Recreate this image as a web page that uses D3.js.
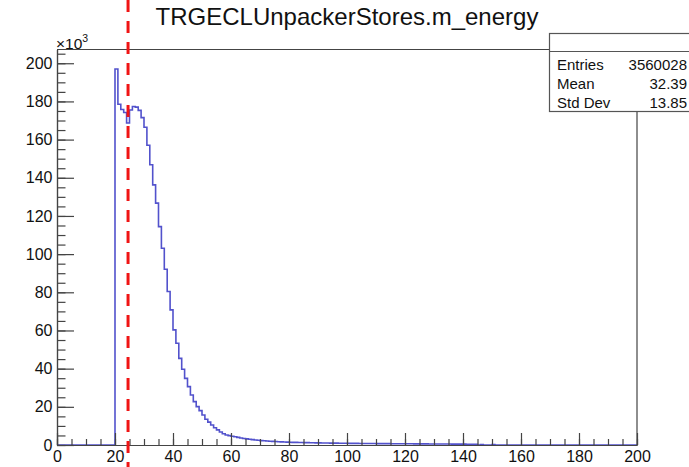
<!DOCTYPE html>
<html lang="en-US">
<head>
<meta charset="UTF-8">
<title>TRGECLUnpackerStores.m_energy</title>
<script src="https://d3js.org/d3.v7.min.js"></script>
<style>
  body { margin: 0; background: #fff; }
  svg { display: block; font-family: "Liberation Sans", Helvetica, Arial, sans-serif; }
  .axis path, .axis line { stroke: #444; stroke-width: 1.2px; }
  .axis text { font-size: 16px; fill: #111; }
  .hist { fill: none; stroke: #5252cc; stroke-width: 1.6px; }
  .cut { stroke: #f01414; stroke-width: 3px; stroke-dasharray: 12 9; }
  .stats text { font-size: 15px; fill: #111; }
</style>
</head>
<body>
<script>

// histogram: 200 bins of width 1 over [0, 200], contents in units of 10^3
var nBins = 200;
var xMin = 0, xMax = 200;
var firstBin = 20;   // bins below this are empty
var counts = [
  197.0, 178.5, 175.8, 174.2, 168.7, 175.5, 177.3, 177.0, 175.3, 171.5,   // 20-29
  166.5, 157.0, 146.8, 136.3, 126.7, 114.4, 103.1, 92.1, 80.4, 70.8,      // 30-39
  60.3, 53.3, 45.4, 39.7, 34.9, 30.6, 26.2, 22.7, 20.1, 18.0,             // 40-49
  15.7, 13.5, 12.0, 10.5, 9.0, 7.9, 6.8, 5.9, 5.2, 4.9,                   // 50-59
  4.6, 4.3, 4.0, 3.7, 3.4, 3.2, 3.0, 2.8, 2.6, 2.45,                      // 60-69
  2.3, 2.2, 2.1, 2.0, 1.9, 1.8, 1.72, 1.65, 1.58, 1.5,                    // 70-79
  1.45, 1.4, 1.36, 1.32, 1.28, 1.25, 1.22, 1.18, 1.15, 1.12,              // 80-89
  1.1, 1.07, 1.05, 1.02, 1.0, 0.98, 0.96, 0.94, 0.92, 0.9,                // 90-99
  0.88, 0.86, 0.85, 0.83, 0.82, 0.8, 0.79, 0.78, 0.77, 0.75,              // 100-109
  0.74, 0.73, 0.72, 0.71, 0.7, 0.69, 0.68, 0.67, 0.66, 0.65,              // 110-119
  0.64, 0.63, 0.62, 0.61, 0.6, 0.59, 0.58, 0.57, 0.56, 0.55,              // 120-129
  0.54, 0.53, 0.52, 0.51, 0.5, 0.49, 0.48, 0.47, 0.46, 0.45,              // 130-139
  0.44, 0.43, 0.42, 0.41, 0.4, 0.0, 0.3, 0.0, 0.0, 0.0,                   // 140-149
  0.3, 0.0                                                                // 150-151
];
var cutValue = 24.5;

var xMajor = [0, 20, 40, 60, 80, 100, 120, 140, 160, 180, 200];
var yMajor = [0, 20, 40, 60, 80, 100, 120, 140, 160, 180, 200];
var yTop = 207.2;

var titleText = "TRGECLUnpackerStores.m_energy";
var statNames = ["Entries", "Mean", "Std Dev"];
var statValues = ["3560028", "32.39", "13.85"];

var W = 689, H = 467;
var frame = {left: 57, right: 637, top: 49.5, bottom: 445};

var svg = d3.select("body").append("svg")
    .attr("width", W)
    .attr("height", H);

var x = d3.scaleLinear()
    .domain([xMin, xMax])
    .range([frame.left, frame.right]);

var y = d3.scaleLinear()
    .domain([0, yTop])
    .range([frame.bottom, frame.top]);

// full bin list, empty outside the filled range
var bins = d3.range(nBins).map(function(i) {
  var c = (i >= firstBin && i - firstBin < counts.length) ? counts[i - firstBin] : 0;
  return {lo: i, hi: i + 1, c: c};
});

// step outline
var pts = [[x(xMin), y(0)]];
bins.forEach(function(b) {
  pts.push([x(b.lo), y(b.c)]);
  pts.push([x(b.hi), y(b.c)]);
});
pts.push([x(xMax), y(0)]);

svg.append("path")
    .attr("class", "hist")
    .attr("d", d3.line()(pts));

// frame top and right
svg.append("path")
    .attr("d", "M" + frame.left + "," + frame.top + "H" + frame.right + "V" + frame.bottom)
    .attr("fill", "none")
    .attr("stroke", "#444")
    .attr("stroke-width", 1.2);

// x axis, ticks pointing inward
svg.append("g")
    .attr("class", "axis")
    .attr("transform", "translate(0," + frame.bottom + ")")
    .call(d3.axisBottom(x).tickValues(d3.range(0, 201, 5)).tickFormat("").tickSize(-6).tickSizeOuter(0));

svg.append("g")
    .attr("class", "axis")
    .attr("transform", "translate(0," + frame.bottom + ")")
    .call(d3.axisBottom(x).tickValues(xMajor).tickSize(-12).tickSizeOuter(0).tickPadding(5.5));

// y axis
svg.append("g")
    .attr("class", "axis")
    .attr("transform", "translate(" + frame.left + ",0)")
    .call(d3.axisLeft(y).tickValues(d3.range(0, 206, 5)).tickFormat("").tickSize(-8.5).tickSizeOuter(0));

svg.append("g")
    .attr("class", "axis")
    .attr("transform", "translate(" + frame.left + ",0)")
    .call(d3.axisLeft(y).tickValues(yMajor).tickSize(-17).tickSizeOuter(0).tickPadding(4.5));

// exponent label
var expo = svg.append("text")
    .attr("x", frame.left - 1)
    .attr("y", 48.5)
    .style("font-size", "15.5px")
    .attr("fill", "#111");
expo.append("tspan").text("\u00d710");
expo.append("tspan").attr("dy", -7).style("font-size", "10.5px").text("3");

// title
svg.append("text")
    .attr("x", 347)
    .attr("y", 25)
    .attr("text-anchor", "middle")
    .style("font-size", "24px")
    .attr("fill", "#111")
    .text(titleText);

// stats box
var stats = svg.append("g").attr("class", "stats");
stats.append("rect")
    .attr("x", 549.5).attr("y", 33.5)
    .attr("width", 150).attr("height", 78)
    .attr("fill", "#fff")
    .attr("stroke", "#555")
    .attr("stroke-width", 1.2);
stats.append("line")
    .attr("x1", 549.5).attr("x2", 689)
    .attr("y1", 51.5).attr("y2", 51.5)
    .attr("stroke", "#555")
    .attr("stroke-width", 1.2);

statNames.forEach(function(name, i) {
  var yy = 69.5 + i * 19.3;
  stats.append("text").attr("x", 557).attr("y", yy).text(name);
  stats.append("text").attr("x", 687).attr("y", yy).attr("text-anchor", "end").text(statValues[i]);
});

// cut line
svg.append("line")
    .attr("class", "cut")
    .attr("x1", x(cutValue)).attr("x2", x(cutValue))
    .attr("y1", 0).attr("y2", H);

</script>
</body>
</html>
